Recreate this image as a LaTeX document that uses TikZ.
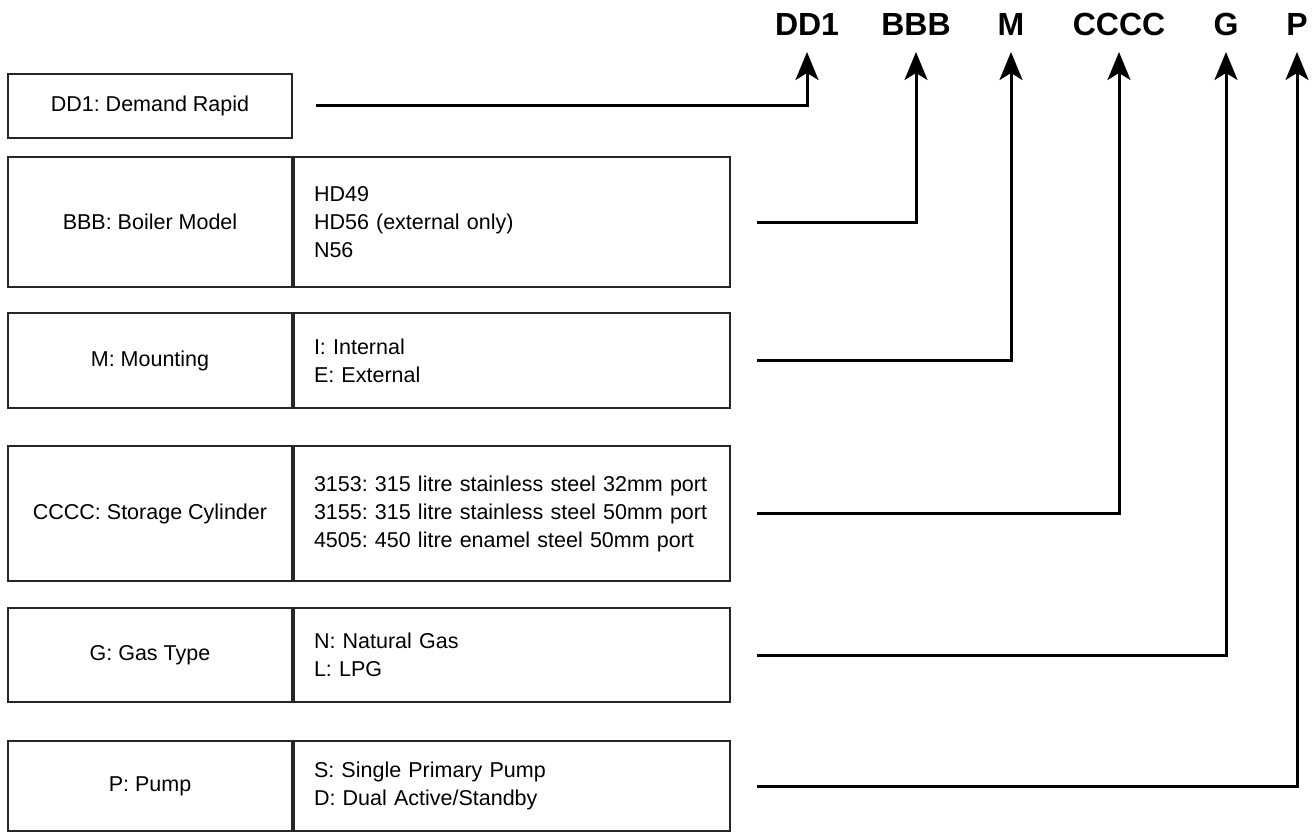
\documentclass[tikz,border=0pt]{standalone}
\usepackage{fontspec}
\setmainfont{Liberation Sans}
\usetikzlibrary{arrows.meta, positioning}

\begin{document}
\begin{tikzpicture}[x=1pt, y=-1pt,
        box/.style={draw=black!85, line width=2pt, minimum width=284pt, inner sep=0pt,
            font=\fontsize{21.5}{28}\selectfont\frenchspacing},
        opts/.style={draw=black!85, line width=2pt, minimum width=436pt, text width=396pt,
            inner xsep=20pt, inner ysep=0pt, align=left, anchor=west,
            font=\fontsize{21.5}{28}\selectfont\frenchspacing},
        code/.style={font=\fontsize{32}{32}\selectfont\bfseries, anchor=base},
        conn/.style={line width=3pt, -{Stealth[length=28pt, width=23pt, inset=7pt]}}]
        \useasboundingbox (0,0) rectangle (1312,832);

        % Code letters
        \node[code] (cDD1) at (807,36) {DD1};
        \node[code] (cBBB) at (916,36) {BBB};
        \node[code] (cM) at (1011,36) {M};
        \node[code] (cCCCC) at (1119,36) {CCCC};
        \node[code] (cG) at (1226,36) {G};
        \node[code] (cP) at (1297,36) {P};

        % Boxes
        \node[box, minimum height=64pt, anchor=north west] (dd1) at (7,73) {DD1: Demand Rapid};

        \node[box, minimum height=130pt, anchor=north west] (bbb) at (7,156) {BBB: Boiler Model};
        \node[opts, minimum height=130pt] (bbbopt) at (bbb.east) {HD49\\HD56 (external only)\\N56};

        \node[box, minimum height=95pt, anchor=north west] (mnt) at (7,312) {M: Mounting};
        \node[opts, minimum height=95pt] (mntopt) at (mnt.east) {I: Internal\\E: External};

        \node[box, minimum height=135pt, anchor=north west] (cyl) at (7,445) {CCCC: Storage Cylinder};
        \node[opts, minimum height=135pt] (cylopt) at (cyl.east)
            {3153: 315 litre stainless steel 32mm port\\3155: 315 litre stainless steel 50mm port\\4505: 450 litre enamel steel 50mm port};

        \node[box, minimum height=94pt, anchor=north west] (gas) at (7,607) {G: Gas Type};
        \node[opts, minimum height=94pt] (gasopt) at (gas.east) {N: Natural Gas\\L: LPG};

        \node[box, minimum height=90pt, anchor=north west] (pump) at (7,740) {P: Pump};
        \node[opts, minimum height=90pt] (pumpopt) at (pump.east) {S: Single Primary Pump\\D: Dual Active/Standby};

        % Connectors
        \draw[conn] ([xshift=23pt]dd1.east) -| ([yshift=-16pt]cDD1.base);
        \draw[conn] ([xshift=26pt]bbbopt.east) -| ([yshift=-16pt]cBBB.base);
        \draw[conn] ([xshift=26pt]mntopt.east) -| ([yshift=-16pt]cM.base);
        \draw[conn] ([xshift=26pt]cylopt.east) -| ([yshift=-16pt]cCCCC.base);
        \draw[conn] ([xshift=26pt]gasopt.east) -| ([yshift=-16pt]cG.base);
        \draw[conn] ([xshift=26pt]pumpopt.east) -| ([yshift=-16pt]cP.base);
\end{tikzpicture}
\end{document}
